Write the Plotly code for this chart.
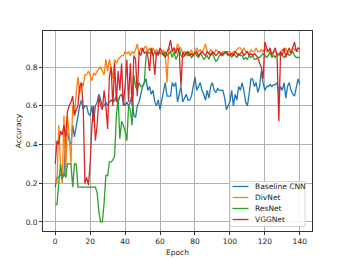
import plotly.graph_objects as go

epochs = list(range(141))

baseline_cnn = [0.18, 0.23, 0.23, 0.24, 0.25, 0.24, 0.45, 0.46, 0.42, 0.4, 0.5, 0.44, 0.5, 0.55, 0.6, 0.63, 0.58, 0.6, 0.6, 0.56,
                0.55, 0.6, 0.52, 0.6, 0.62, 0.66, 0.63, 0.6, 0.6, 0.62, 0.6, 0.62, 0.63, 0.62, 0.63, 0.65, 0.62, 0.65, 0.66, 0.62,
                0.6, 0.62, 0.6, 0.62, 0.66, 0.55, 0.54, 0.6, 0.62, 0.66, 0.7, 0.72, 0.74, 0.68, 0.7, 0.66, 0.68, 0.62, 0.6, 0.63,
                0.58, 0.63, 0.68, 0.72, 0.65, 0.65, 0.65, 0.72, 0.7, 0.72, 0.62, 0.66, 0.7, 0.62, 0.64, 0.66, 0.63, 0.63, 0.65, 0.7,
                0.75, 0.68, 0.7, 0.72, 0.68, 0.66, 0.63, 0.68, 0.64, 0.7, 0.72, 0.68, 0.67, 0.69, 0.68, 0.68, 0.68, 0.64, 0.58, 0.6,
                0.62, 0.68, 0.6, 0.66, 0.63, 0.7, 0.68, 0.72, 0.68, 0.62, 0.6, 0.66, 0.74, 0.74, 0.7, 0.72, 0.67, 0.7, 0.78, 0.72,
                0.68, 0.7, 0.7, 0.71, 0.7, 0.71, 0.71, 0.72, 0.66, 0.7, 0.68, 0.72, 0.64, 0.7, 0.72, 0.68, 0.66, 0.65, 0.7, 0.74,
                0.71]

divnet = [0.22, 0.2, 0.5, 0.3, 0.2, 0.55, 0.23, 0.55, 0.45, 0.3, 0.6, 0.55, 0.66, 0.75, 0.66, 0.72, 0.7, 0.76, 0.76, 0.78,
          0.76, 0.73, 0.77, 0.76, 0.78, 0.79, 0.8, 0.78, 0.76, 0.84, 0.78, 0.84, 0.8, 0.74, 0.84, 0.82, 0.84, 0.85, 0.86, 0.86,
          0.88, 0.87, 0.88, 0.86, 0.88, 0.87, 0.89, 0.92, 0.87, 0.9, 0.88, 0.9, 0.91, 0.88, 0.9, 0.87, 0.9, 0.88, 0.89, 0.88,
          0.88, 0.87, 0.89, 0.86, 0.72, 0.9, 0.88, 0.88, 0.9, 0.88, 0.92, 0.9, 0.9, 0.87, 0.88, 0.86, 0.88, 0.87, 0.89, 0.86,
          0.88, 0.9, 0.88, 0.89, 0.87, 0.9, 0.92, 0.88, 0.87, 0.89, 0.88, 0.87, 0.89, 0.88, 0.88, 0.87, 0.88, 0.88, 0.88, 0.88,
          0.88, 0.87, 0.88, 0.88, 0.89, 0.9, 0.9, 0.88, 0.9, 0.88, 0.88, 0.87, 0.89, 0.88, 0.88, 0.9, 0.88, 0.88, 0.89, 0.88,
          0.9, 0.88, 0.88, 0.89, 0.87, 0.88, 0.88, 0.87, 0.87, 0.88, 0.89, 0.88, 0.9, 0.87, 0.88, 0.88, 0.9, 0.89, 0.89, 0.88,
          0.88]

resnet = [0.09, 0.09, 0.2, 0.3, 0.22, 0.25, 0.23, 0.3, 0.3, 0.3, 0.18, 0.3, 0.3, 0.18, 0.18, 0.18, 0.18, 0.18, 0.18, 0.18,
          0.18, 0.18, 0.18, 0.18, 0.15, 0.05, 0.0, 0.0, 0.1, 0.24, 0.24, 0.31, 0.31, 0.32, 0.34, 0.55, 0.64, 0.43, 0.52, 0.5,
          0.47, 0.42, 0.6, 0.58, 0.5, 0.76, 0.7, 0.68, 0.72, 0.7, 0.7, 0.72, 0.86, 0.88, 0.87, 0.88, 0.86, 0.88, 0.86, 0.88,
          0.87, 0.87, 0.86, 0.88, 0.86, 0.87, 0.88, 0.85, 0.88, 0.84, 0.86, 0.9, 0.86, 0.85, 0.86, 0.88, 0.86, 0.87, 0.85, 0.86,
          0.88, 0.86, 0.85, 0.87, 0.86, 0.84, 0.85, 0.86, 0.84, 0.87, 0.87, 0.85, 0.83, 0.84, 0.86, 0.87, 0.86, 0.88, 0.87, 0.86,
          0.87, 0.85, 0.87, 0.86, 0.85, 0.87, 0.86, 0.86, 0.84, 0.85, 0.84, 0.86, 0.85, 0.86, 0.84, 0.84, 0.85, 0.85, 0.86, 0.87,
          0.86, 0.85, 0.86, 0.88, 0.85, 0.86, 0.85, 0.87, 0.86, 0.88, 0.86, 0.85, 0.86, 0.87, 0.86, 0.87, 0.88, 0.86, 0.85, 0.85,
          0.85]

vggnet = [0.3, 0.42, 0.4, 0.47, 0.45, 0.5, 0.44, 0.57, 0.6, 0.62, 0.65, 0.55, 0.58, 0.6, 0.7, 0.72, 0.6, 0.2, 0.23, 0.19,
          0.3, 0.5, 0.6, 0.42, 0.5, 0.65, 0.6, 0.58, 0.68, 0.6, 0.48, 0.75, 0.8, 0.6, 0.82, 0.62, 0.78, 0.68, 0.82, 0.6,
          0.7, 0.84, 0.62, 0.82, 0.6, 0.86, 0.84, 0.65, 0.88, 0.86, 0.9, 0.87, 0.88, 0.86, 0.78, 0.9, 0.86, 0.76, 0.88, 0.86,
          0.9, 0.88, 0.87, 0.85, 0.88, 0.9, 0.94, 0.88, 0.9, 0.87, 0.9, 0.88, 0.7, 0.88, 0.86, 0.87, 0.88, 0.86, 0.87, 0.86,
          0.87, 0.88, 0.86, 0.87, 0.88, 0.87, 0.86, 0.88, 0.87, 0.86, 0.88, 0.87, 0.86, 0.87, 0.88, 0.86, 0.87, 0.87, 0.88, 0.87,
          0.86, 0.87, 0.86, 0.88, 0.87, 0.86, 0.87, 0.88, 0.86, 0.87, 0.88, 0.86, 0.87, 0.86, 0.87, 0.86, 0.85, 0.82, 0.8, 0.74,
          0.93, 0.9, 0.88, 0.9, 0.86, 0.88, 0.9, 0.86, 0.52, 0.88, 0.86, 0.9, 0.85, 0.88, 0.9, 0.87, 0.9, 0.93, 0.88, 0.9,
          0.89]

series_names = ["Baseline CNN", "DivNet", "ResNet", "VGGNet"]
series_values = [baseline_cnn, divnet, resnet, vggnet]
colors = ["#1f77b4", "#ff7f0e", "#2ca02c", "#d62728"]

x_ticks = [0, 20, 40, 60, 80, 100, 120, 140]
y_ticks = [0.0, 0.2, 0.4, 0.6, 0.8]
y_tick_labels = ["0.0", "0.2", "0.4", "0.6", "0.8"]

W, H = 346, 260
ML, MR, MT, MB = 43, 34, 31, 29
PW, PH = W - ML - MR, H - MT - MB


def px(xp):
    return (xp - ML) / PW


def py(yp):
    return (H - MB - yp) / PH


fig = go.Figure()
for name, vals, c in zip(series_names, series_values, colors):
    fig.add_trace(go.Scatter(x=epochs, y=vals, mode="lines", name=name,
                             line=dict(color=c, width=1.3), showlegend=False))

axis_common = dict(showgrid=True, gridcolor="#b0b0b0", gridwidth=0.7,
                   showline=True, linecolor="#333333", linewidth=0.8, mirror=True,
                   ticks="outside", ticklen=3, tickcolor="#333333", tickwidth=0.8,
                   zeroline=False, automargin=False, tickfont=dict(size=7.5, color="#222222"))

# manual legend (matplotlib-like, compact)
shapes = [dict(type="rect", xref="paper", yref="paper",
               x0=px(230), x1=px(305), y0=py(181.5), y1=py(226.5),
               line=dict(color="#cccccc", width=0.8), fillcolor="rgba(255,255,255,0.85)", layer="above")]
annotations = []
entry_y = [186.5, 197.5, 208.5, 219.5]
for name, c, ey in zip(series_names, colors, entry_y):
    shapes.append(dict(type="line", xref="paper", yref="paper",
                       x0=px(232.5), x1=px(248.5), y0=py(ey), y1=py(ey),
                       line=dict(color=c, width=1.3), layer="above"))
    annotations.append(dict(xref="paper", yref="paper", x=px(253), y=py(ey), text=name,
                            showarrow=False, xanchor="left", yanchor="middle",
                            font=dict(size=7.5, color="#222222")))

fig.update_layout(
    width=W, height=H,
    margin=dict(l=ML, r=MR, t=MT, b=MB),
    paper_bgcolor="white", plot_bgcolor="white",
    font=dict(family="DejaVu Sans", size=7.5, color="#222222"),
    xaxis=dict(range=[-7, 147], tickvals=x_ticks, title=dict(text="Epoch", standoff=4, font=dict(size=7.5)), **axis_common),
    yaxis=dict(range=[-0.047, 0.987], tickvals=y_ticks, ticktext=y_tick_labels,
               title=dict(text="Accuracy", standoff=3, font=dict(size=7.5)), **axis_common),
    shapes=shapes,
    annotations=annotations,
    showlegend=False,
)

fig.write_html("out.html", config={"displayModeBar": False},
               post_script="document.body.style.margin='0';document.body.style.overflow='hidden';")
